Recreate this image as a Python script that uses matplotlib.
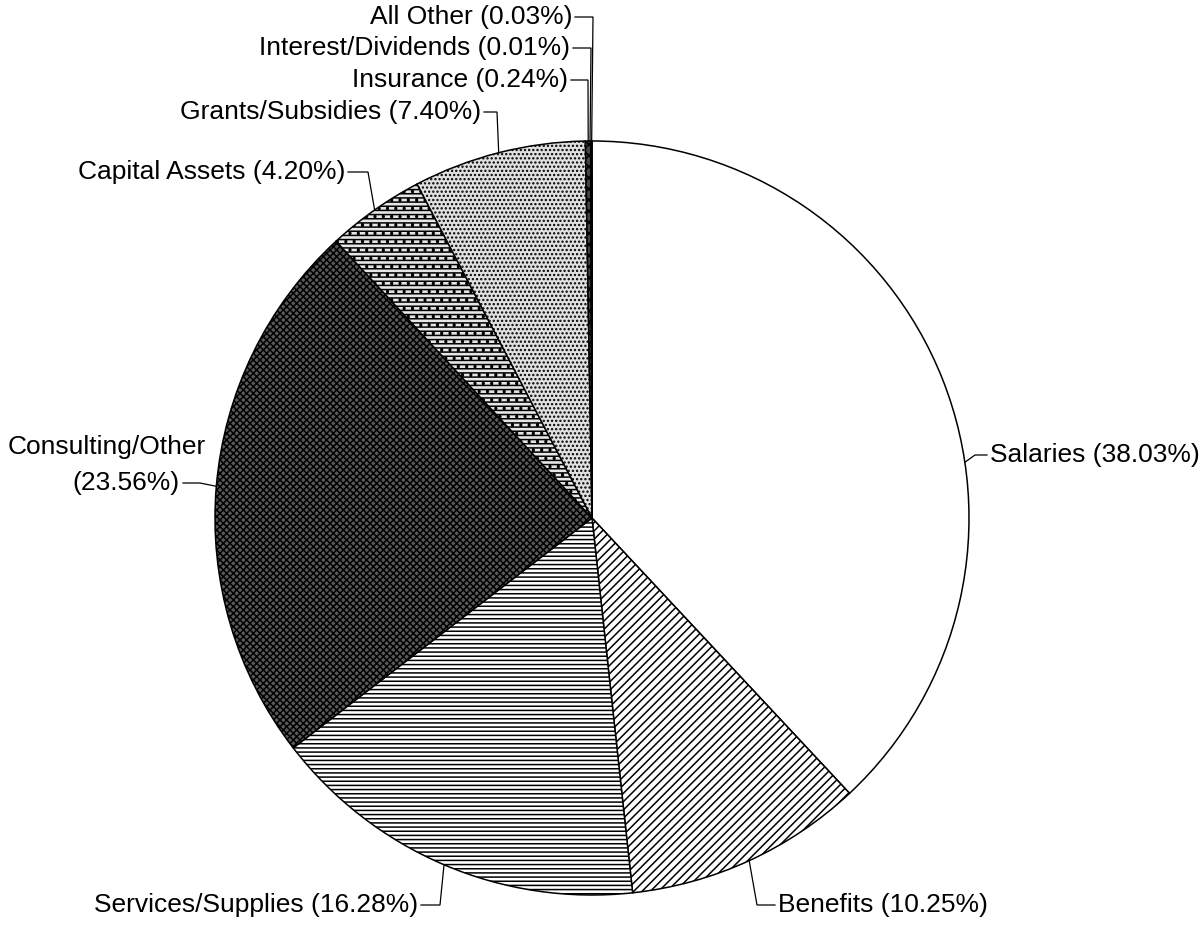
import numpy as np
import matplotlib
matplotlib.use("Agg")
import matplotlib.pyplot as plt

# data
categories = ["Salaries", "Benefits", "Services/Supplies", "Consulting/Other",
              "Capital Assets", "Grants/Subsidies", "Insurance",
              "Interest/Dividends", "All Other"]
shares = [38.03, 10.25, 16.28, 23.56, 4.20, 7.40, 0.24, 0.01, 0.03]
label_texts = ["Salaries (38.03%)", "Benefits (10.25%)", "Services/Supplies (16.28%)",
               "Consulting/Other\n(23.56%)", "Capital Assets (4.20%)",
               "Grants/Subsidies (7.40%)", "Insurance (0.24%)",
               "Interest/Dividends (0.01%)", "All Other (0.03%)"]

faces = ["white", "white", "white", "#5a5a5a", "#e6e6e6", "#e0e0e0", "#444444", "black", "black"]
hatches = [None, "////", "----", "xxxxx", "----..", "....", "xxx", None, None]

W, H = 1201, 926
plt.rcParams["font.family"] = ["Liberation Sans", "DejaVu Sans"]
plt.rcParams["hatch.linewidth"] = 1.1

fig = plt.figure(figsize=(W / 100, H / 100), dpi=100)
ax = fig.add_axes([0, 0, 1, 1])

cx, cy, R = 592, 518, 377  # image pixel coords

wedges, _ = ax.pie(shares, startangle=90, counterclock=False, radius=R,
                   center=(cx, H - cy), frame=True,
                   wedgeprops=dict(edgecolor="black", linewidth=1.1))
for w, fc, h in zip(wedges, faces, hatches):
    w.set_facecolor(fc)
    if h:
        w.set_hatch(h)

ax.set_xlim(0, W)
ax.set_ylim(0, H)
ax.set_aspect("equal")
ax.axis("off")

# anchor angles on the rim (deg clockwise from top)
cum = np.cumsum([0] + shares[:-1])
anchor_deg = [(c + s / 2) * 3.6 for c, s in zip(cum, shares)]
anchor_deg[0] = 81.5
anchor_deg[7] = 359.7
anchor_deg[8] = 359.95

# text anchor (image px), alignment, elbow x
text_pos = [(990, 455, "left", 975),
            (778, 905, "left", 757),
            (418, 905, "right", 440),
            (180, 483, "right", 200),
            (345, 172, "right", 368),
            (481, 112, "right", 497),
            (568, 80, "right", 588),
            (570, 48, "right", 591),
            (572, 17, "right", 593)]

fs = 19
for lab, (tx, ty, ha, ex), a in zip(label_texts, text_pos, anchor_deg):
    t = np.deg2rad(a)
    px = cx + R * np.sin(t)
    py = cy - R * np.cos(t)
    x0 = tx - 3 if ha == "left" else tx + 3
    ax.plot([x0, ex, px], [H - ty, H - ty, H - py], color="black", lw=0.9,
            solid_joinstyle="miter")
    if "\n" in lab:
        l1, l2 = lab.split("\n")
        ax.text(tx + 26, H - (ty - 36), l1, ha=ha, va="center", fontsize=fs)
        ax.text(tx, H - ty, l2, ha=ha, va="center", fontsize=fs)
    else:
        ax.text(tx, H - ty, lab, ha=ha, va="center", fontsize=fs)

fig.savefig("out.png", dpi=100)
